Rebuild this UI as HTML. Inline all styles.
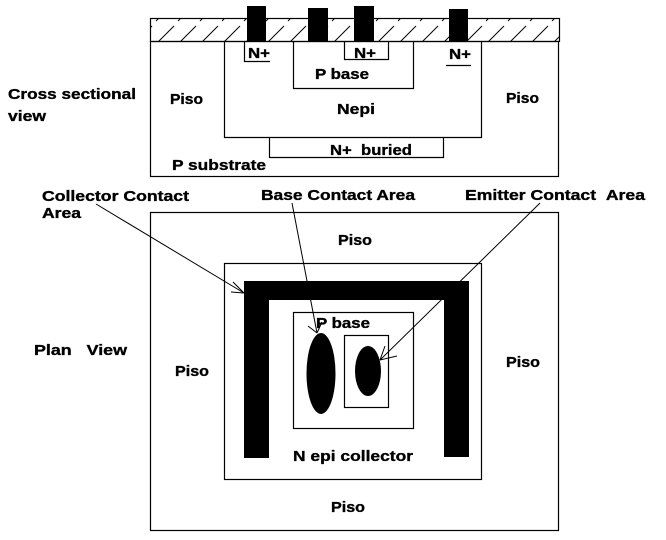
<!DOCTYPE html>
<html><head><meta charset="utf-8"><style>
html,body{margin:0;padding:0;background:#fff;width:666px;height:540px;overflow:hidden}
svg text{font-family:"Liberation Sans",Arial,sans-serif;font-weight:bold;font-size:15px;fill:#000;stroke:#000;stroke-width:0.35}
</style></head><body>
<svg width="666" height="540" viewBox="0 0 666 540">
<defs>
<pattern id="hatch" width="22" height="23" patternUnits="userSpaceOnUse">
<line x1="2" y1="21" x2="20" y2="3" stroke="#000" stroke-width="1"/>
</pattern>
</defs>
<g fill="none" stroke="#000" stroke-width="1.2">
<rect x="150.5" y="18.5" width="409" height="23" fill="url(#hatch)"/>
<rect x="150.5" y="41.5" width="408" height="135"/>
<path d="M224.5 41.5 V137.5 H481.5 V41.5"/>
<path d="M293.5 41.5 V88.5 H413.5 V41.5"/>
<path d="M244.5 41.5 V61.5 H270"/>
<path d="M344.5 41.5 V59.5 H388.5 V41.5"/>
<path d="M446 65.5 H471"/>
<path d="M269.5 137.5 V157.5 H443.5 V137.5"/>
</g>
<g fill="#000">
<rect x="247" y="6" width="19" height="35"/>
<rect x="308" y="8" width="20" height="33"/>
<rect x="354" y="6" width="20" height="35"/>
<rect x="449" y="9" width="19" height="32"/>
</g>
<text x="248" y="58" textLength="22" lengthAdjust="spacingAndGlyphs">N+</text>
<text x="354" y="58" textLength="22" lengthAdjust="spacingAndGlyphs">N+</text>
<text x="449" y="59" textLength="22" lengthAdjust="spacingAndGlyphs">N+</text>
<text x="315" y="79" textLength="54" lengthAdjust="spacingAndGlyphs">P base</text>
<text x="337" y="114" textLength="38" lengthAdjust="spacingAndGlyphs">Nepi</text>
<text x="170" y="104" textLength="33" lengthAdjust="spacingAndGlyphs">Piso</text>
<text x="506" y="103" textLength="33" lengthAdjust="spacingAndGlyphs">Piso</text>
<text x="330" y="155" textLength="82" lengthAdjust="spacingAndGlyphs">N+ &#160;buried</text>
<text x="172" y="170" textLength="94" lengthAdjust="spacingAndGlyphs">P substrate</text>
<text x="8" y="99" textLength="128" lengthAdjust="spacingAndGlyphs">Cross sectional</text>
<text x="8" y="121" textLength="38" lengthAdjust="spacingAndGlyphs">view</text>

<g fill="none" stroke="#000" stroke-width="1.2">
<rect x="150.5" y="212.5" width="408" height="318"/>
<rect x="224.5" y="263.5" width="257" height="216"/>
<rect x="293.5" y="312.5" width="120" height="116"/>
<rect x="344.5" y="335.5" width="44" height="72"/>
</g>
<g fill="#000">
<path d="M244 281 H469 V457 H444 V300 H269 V458 H244 Z"/>
<ellipse cx="321" cy="373.5" rx="14.5" ry="40.5"/>
<ellipse cx="368" cy="371" rx="13" ry="25"/>
</g>
<g stroke="#000" stroke-width="1" fill="none">
<path d="M96 204 L244 293 M244 293 L233 282 M244 293 L231 292"/>
<path d="M292 203 L317 333 M317 333 L308 326 M317 333 L322 322"/>
<path d="M540 203 L380 360 M380 360 L385 346 M380 360 L397 356"/>
</g>
<text x="42" y="201" textLength="147" lengthAdjust="spacingAndGlyphs">Collector Contact</text>
<text x="42" y="218" textLength="39" lengthAdjust="spacingAndGlyphs">Area</text>
<text x="261" y="200" textLength="154" lengthAdjust="spacingAndGlyphs">Base Contact Area</text>
<text x="465" y="200" textLength="180" lengthAdjust="spacingAndGlyphs">Emitter Contact &#160;Area</text>
<text x="338" y="245" textLength="34" lengthAdjust="spacingAndGlyphs">Piso</text>
<text x="175" y="376" textLength="34" lengthAdjust="spacingAndGlyphs">Piso</text>
<text x="506" y="367" textLength="34" lengthAdjust="spacingAndGlyphs">Piso</text>
<text x="331" y="512" textLength="34" lengthAdjust="spacingAndGlyphs">Piso</text>
<text x="316" y="328" textLength="54" lengthAdjust="spacingAndGlyphs">P base</text>
<text x="293" y="461" textLength="120" lengthAdjust="spacingAndGlyphs">N epi collector</text>
<text x="34" y="355" textLength="93" lengthAdjust="spacingAndGlyphs">Plan &#160;&#160;View</text>
</svg>
</body></html>
